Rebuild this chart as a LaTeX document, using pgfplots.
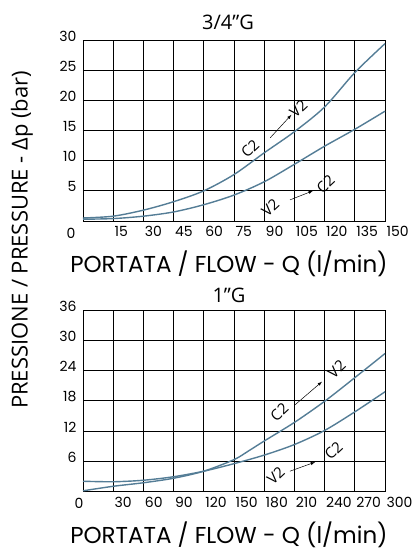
\documentclass[border=0pt]{standalone}
\usepackage{fontspec}
\setmainfont{Open Sans}
\newfontfamily\popp{Poppins}
\usepackage{pgfplots}
\pgfplotsset{compat=1.18}
\definecolor{curve}{RGB}{84,125,150}
\begin{document}
\begin{tikzpicture}
\useasboundingbox (0pt,0pt) rectangle (414pt,-552pt);
\pgfplotsset{
  myax/.style={
    scale only axis, width=302pt, height=181pt,
    grid=major, major grid style={black, line width=0.8pt},
    axis line style={black, line width=0.9pt},
    tick style={draw=none},
    /pgf/number format/assume math mode=true,
    ticklabel style={font=\popp\fontsize{14}{16}\selectfont},
    xticklabel style={anchor=north west, xshift=-2pt, yshift=-2pt},
    yticklabel style={anchor=east, xshift=-3pt, yshift=4pt},
    clip=false,
  },
}
\tikzset{
  cv/.style={curve, line width=1.4pt, smooth},
  ann/.style={font=\fontsize{15}{17}\selectfont, rotate=43},
  arr/.style={-latex, line width=0.5pt},
}
% Top chart
\begin{axis}[myax, at={(83pt,-221pt)}, anchor=south west,
  xmin=0, xmax=150, ymin=0, ymax=30,
  xtick={0,15,...,150}, xticklabels={,15,30,45,60,75,90,105,120,135,150},
  ytick={5,10,...,30}]
\addplot[cv, no marks] coordinates {(0,0.5)(15,0.8)(30,1.8)(45,3.2)(60,5.0)(75,7.7)(90,11.3)(105,14.8)(120,18.9)(135,24.6)(150,29.4)};
\addplot[cv, no marks] coordinates {(0,0.3)(15,0.4)(30,0.8)(45,1.5)(60,2.7)(75,4.3)(90,6.5)(105,9.4)(120,12.4)(135,15.2)(150,18.2)};
\node[ann] at (axis cs:83,12.0) {C2};
\draw[arr] (axis cs:93,13.8) -- (axis cs:103.5,17.6);
\node[ann] at (axis cs:107,18.6) {V2};
\node[ann] at (axis cs:93,2.2) {V2};
\draw[arr] (axis cs:102.8,3.5) -- (axis cs:114.2,5.0);
\node[ann] at (axis cs:120.5,6.1) {C2};
\node[font=\popp\fontsize{14}{16}\selectfont] at (axis cs:-6,-2) {0};
\end{axis}
% Bottom chart
\begin{axis}[myax, at={(83pt,-491.3pt)}, anchor=south west,
  xmin=0, xmax=300, ymin=0, ymax=36,
  xtick={0,30,...,300}, xticklabels={,30,60,90,120,150,180,210,240,270,300},
  ytick={6,12,...,36}]
\addplot[cv, no marks] coordinates {(0,2.0)(30,1.9)(60,2.2)(90,2.9)(120,4.0)(150,5.5)(180,7.2)(210,9.3)(240,12.1)(270,15.8)(300,19.8)};
\addplot[cv, no marks] coordinates {(0,0.1)(30,1.0)(60,1.7)(90,2.6)(120,4.0)(150,6.3)(165,8.1)(180,10.0)(210,13.7)(240,17.9)(270,22.6)(300,27.4)};
\node[ann] at (axis cs:195,15.7) {C2};
\draw[arr] (axis cs:210.6,17.2) -- (axis cs:237.4,21.8);
\node[ann] at (axis cs:252,24.3) {V2};
\node[ann] at (axis cs:191.5,3.2) {V2};
\draw[arr] (axis cs:205.6,4.0) -- (axis cs:230.5,5.8);
\node[ann] at (axis cs:249,8.1) {C2};
\node[font=\popp\fontsize{14}{16}\selectfont] at (axis cs:-4,-2.3) {0};
\end{axis}
% Titles and labels
\node[font=\fontsize{20}{22}\selectfont] at (228pt,-22pt) {3/4”G};
\node[font=\fontsize{20}{22}\selectfont] at (229pt,-295pt) {1”G};
\node[font=\popp\fontsize{23}{26}\selectfont] at (229pt,-264pt) {PORTATA / FLOW - Q (l/min)};
\node[font=\popp\fontsize{23}{26}\selectfont] at (229pt,-535pt) {PORTATA / FLOW - Q (l/min)};
\node[font=\fontsize{22}{24}\selectfont, rotate=90] at (22pt,-240pt) {PRESSIONE / PRESSURE - Δp (bar)};
\end{tikzpicture}
\end{document}
